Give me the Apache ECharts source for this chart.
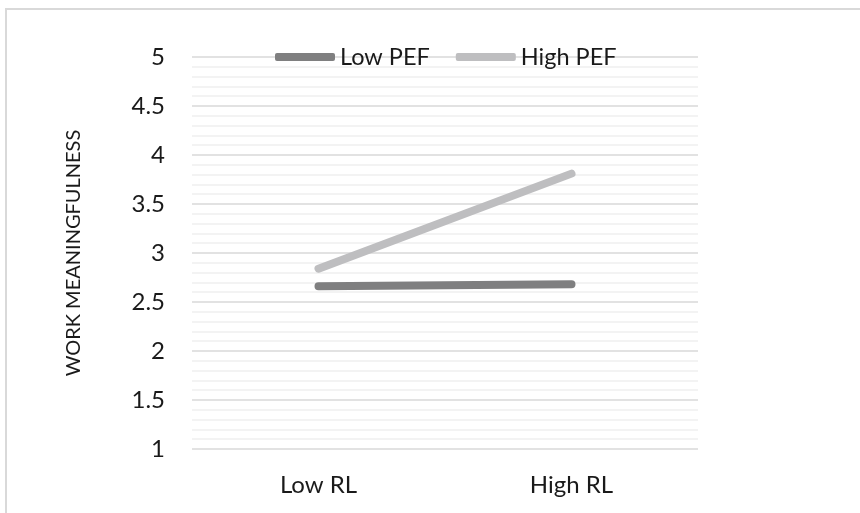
<!DOCTYPE html>
<html>
<head>
<meta charset="utf-8">
<script src="https://cdn.jsdelivr.net/npm/echarts@6/dist/echarts.min.js"></script>
<style>html,body{margin:0;padding:0;background:#fff}#c{width:860px;height:513px}</style>
</head>
<body>
<div id="c"></div>
<script>
const categories = ['Low RL', 'High RL'];
const lowPEF = [2.66, 2.68];
const highPEF = [2.84, 3.81];
const seriesNames = ['Low PEF', 'High PEF'];
const yAxisName = 'WORK MEANINGFULNESS';

const chart = echarts.init(document.getElementById('c'), null, {renderer: 'canvas'});
const font = 'Lato';
chart.setOption({
  backgroundColor: '#fff',
  animation: false,
  graphic: [
    {type: 'line', shape: {x1: 5, y1: 9, x2: 860, y2: 9}, style: {stroke: '#d9d9d9', lineWidth: 2}},
    {type: 'line', shape: {x1: 6, y1: 9, x2: 6, y2: 513}, style: {stroke: '#d9d9d9', lineWidth: 2}}
  ],
  legend: {
    left: 270, top: 40,
    itemWidth: 60, itemHeight: 8, itemGap: 26,
    icon: 'roundRect',
    textStyle: {fontFamily: font, fontSize: 23.5, color: '#1a1a1a'},
    data: seriesNames
  },
  grid: {left: 192, right: 162, top: 57, bottom: 64},
  xAxis: {
    type: 'category', data: categories, boundaryGap: true,
    axisLine: {show: false}, axisTick: {show: false},
    axisLabel: {fontFamily: font, fontSize: 24, color: '#1a1a1a', margin: 24}
  },
  yAxis: {
    type: 'value', min: 1, max: 5, interval: 0.5,
    name: yAxisName, nameLocation: 'middle', nameGap: 108, nameRotate: 90,
    nameTextStyle: {fontFamily: font, fontSize: 20, color: '#1a1a1a'},
    axisLine: {show: false}, axisTick: {show: false},
    axisLabel: {fontFamily: font, fontSize: 24, color: '#1a1a1a', margin: 27},
    splitLine: {lineStyle: {color: '#d9d9d9', width: 1.5}},
    minorTick: {show: false, splitNumber: 5},
    minorSplitLine: {show: true, lineStyle: {color: '#f0f0f0', width: 1.5}}
  },
  series: [
    {name: seriesNames[0], type: 'line', data: lowPEF, symbol: 'none',
     lineStyle: {color: '#7f7f80', width: 8, cap: 'round'}, itemStyle: {color: '#7f7f80'}},
    {name: seriesNames[1], type: 'line', data: highPEF, symbol: 'none',
     lineStyle: {color: '#bebec0', width: 8, cap: 'round'}, itemStyle: {color: '#bebec0'}}
  ]
});
</script>
</body>
</html>
